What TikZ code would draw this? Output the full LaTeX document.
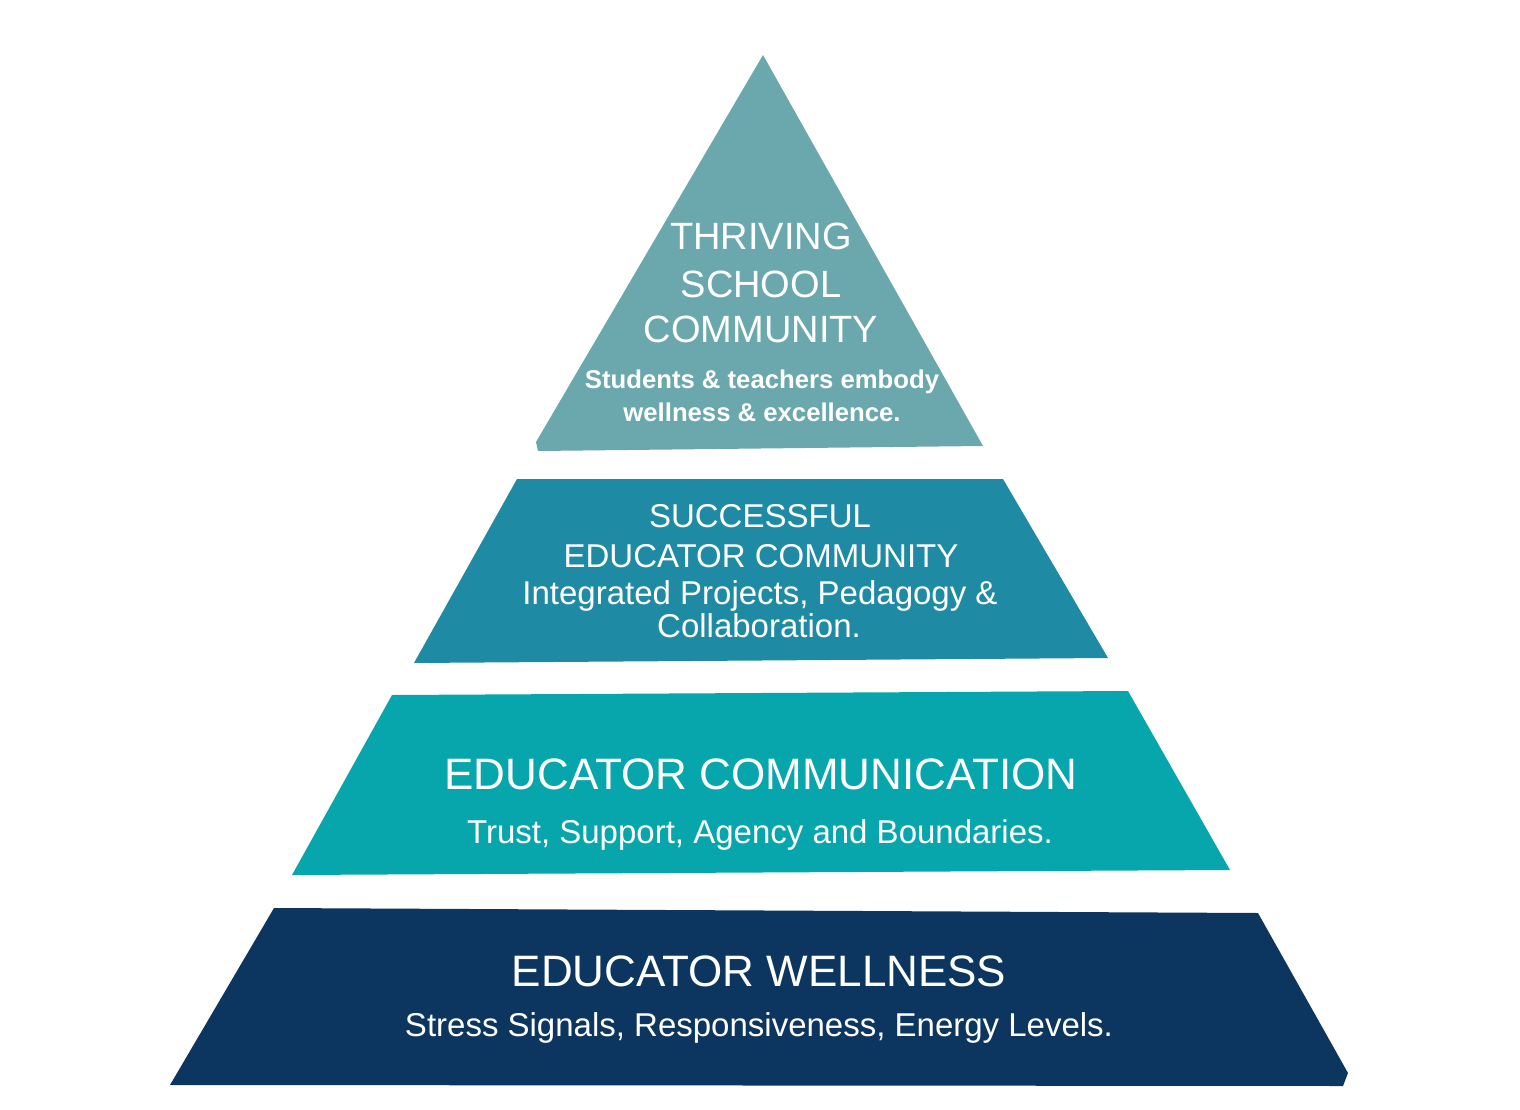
\documentclass[tikz,border=0pt]{standalone}
\usepackage{fontspec}
\setmainfont{Liberation Sans}
\definecolor{tierone}{RGB}{106,168,173}
\definecolor{tiertwo}{RGB}{30,138,164}
\definecolor{tierthree}{RGB}{7,166,172}
\definecolor{tierfour}{RGB}{12,54,96}
\tikzset{
  lbl/.style={text=white, inner sep=0pt, anchor=base},
  fA/.style={lbl, font=\fontsize{38}{44}\selectfont},
  fB/.style={lbl, font=\bfseries\fontsize{25.7}{30}\selectfont},
  fC/.style={lbl, font=\fontsize{33}{38}\selectfont},
  fD/.style={lbl, font=\fontsize{44}{50}\selectfont},
}
\begin{document}
\begin{tikzpicture}[x=1pt,y=-1pt]
\useasboundingbox (0,0) rectangle (1520,1110);
% tier 1 (triangle)
\fill[tierone] (763,55) -- (983,446) -- (538,451) -- (536,442) -- cycle;
% tier 2
\fill[tiertwo] (517,479) -- (1003,479) -- (1108,658) -- (414,663) -- cycle;
% tier 3
\fill[tierthree] (392,695) -- (1128,691) -- (1230,870) -- (292,875) -- cycle;
% tier 4
\fill[tierfour] (274,908) -- (1258,913) -- (1348,1073) -- (1343,1086) -- (170,1085) -- cycle;
% texts tier 1
\node[fA] (t1a) at (761,249) {THRIVING};
\node[fA] (t1b) at (761,297) {SCHOOL};
\node[fA] (t1c) at (761,342) {COMMUNITY};
\node[fB] (t1d) at (762,388) {Students \& teachers embody};
\node[fB] (t1e) at (762,421) {wellness \& excellence.};
% tier 2
\node[fC] (t2a) at (760,527) {SUCCESSFUL};
\node[fC] (t2b) at (761,567) {EDUCATOR COMMUNITY};
\node[fC] (t2c) at (760,604) {Integrated Projects, Pedagogy \&};
\node[fC] (t2d) at (759,637) {Collaboration.};
% tier 3
\node[fD] (t3a) at (761,789) {EDUCATOR COMMUNICATION};
\node[fC] (t3b) at (760,843) {Trust, Support, Agency and Boundaries.};
% tier 4
\node[fD] (t4a) at (759,986) {EDUCATOR WELLNESS};
\node[fC] (t4b) at (759,1036) {Stress Signals, Responsiveness, Energy Levels.};
\end{tikzpicture}
\end{document}
